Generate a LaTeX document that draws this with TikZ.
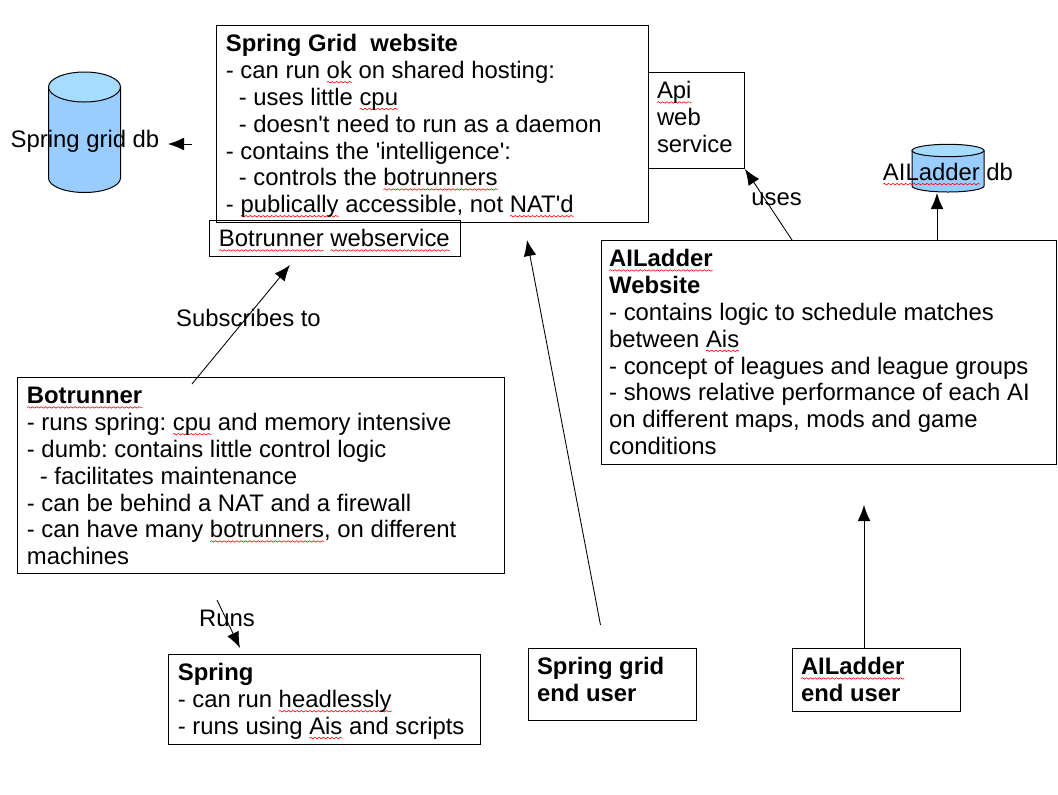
\documentclass[tikz,border=0pt]{standalone}
\usepackage{fontspec}
\usepackage{xcolor}
\usetikzlibrary{arrows.meta,decorations.pathmorphing}
\setmainfont{Liberation Sans}[Ligatures=TeXOff]
\frenchspacing
\definecolor{dbBody}{HTML}{99CCFF}
\definecolor{dbTop}{HTML}{A6DCFF}
\newsavebox{\spellbox}
\newcommand{\spell}[1]{\sbox{\spellbox}{#1}\leavevmode\rlap{\tikz[overlay]\draw[spellwave] (0pt,-2.7pt) -- (\the\wd\spellbox,-2.7pt);}\usebox{\spellbox}}
\newcommand{\ind}{\hspace*{9.7pt}}
\newcommand{\boxtext}[3]{\parbox[c][#2][t]{#1}{\raggedright\vspace*{5.6pt}\strut #3}}
\tikzset{
  box/.style={draw, line width=0.9pt, anchor=north west, inner xsep=7pt, inner ysep=0pt, font=\fontsize{17.9}{20.1}\selectfont},
  lbl/.style={inner sep=0pt, font=\fontsize{17.9}{20.1}\selectfont},
  conn/.style={line width=0.65pt, -{Latex[length=12pt,width=9.5pt]}},
  db/.style={draw, line width=0.75pt},
  spellwave/.style={red, line width=0.45pt, decorate, decoration={snake, amplitude=0.55pt, segment length=3.2pt}}
}
\begin{document}
\begin{tikzpicture}[x=0.75pt, y=-0.75pt]
  \useasboundingbox (0,0) rectangle (1058,794);

  % Databases
  \draw[db, fill=dbBody] (48.5,87) -- (48.5,178) arc[start angle=180, end angle=0, x radius=36, y radius=14.5] -- (120.5,87) -- cycle;
  \draw[db, fill=dbTop] (84.5,87) ellipse[x radius=36, y radius=15];
  \draw[db, fill=dbBody] (912,150.5) -- (912,186) arc[start angle=180, end angle=0, x radius=36, y radius=6] -- (984,150.5) -- cycle;
  \draw[db, fill=dbTop] (948,150.5) ellipse[x radius=36, y radius=6.2];
  \node[lbl] (griddb) at (85,141) {Spring grid db};
  \node[lbl] (ladderdb) at (948,172) {\spell{AILadder} db};

  % Boxes
  \node[box] (website) at (216,25) {\boxtext{310pt}{147.75pt}{\textbf{Spring Grid\ \ website}\\
    - can run \spell{ok} on shared hosting:\\
    \ind- uses little \spell{cpu}\\
    \ind- doesn't need to run as a daemon\\
    - contains the 'intelligence':\\
    \ind- controls the \spell{botrunners}\\
    - \spell{publically} accessible, not \spell{NAT'd}}};
  \node[box, inner xsep=6.3pt] (api) at (648,72) {\boxtext{59.4pt}{72pt}{\spell{Api}\\web\\service}};
  \node[box] (webservice) at (209,220) {\boxtext{174.25pt}{27pt}{\spell{Botrunner} \spell{webservice}}};
  \node[box] (botrunner) at (17,377) {\boxtext{351.25pt}{147pt}{\spell{\textbf{Botrunner}}\\
    - runs spring: \spell{cpu} and memory intensive\\
    - dumb: contains little control logic\\
    \ind- facilitates maintenance\\
    - can be behind a NAT and a firewall\\
    - can have many \spell{botrunners}, on different\\
    machines}};
  \node[box, inner xsep=5.7pt] (ladder) at (601,240) {\boxtext{329.85pt}{168pt}{\spell{\textbf{AILadder}}\\
    \textbf{Website}\\
    - contains logic to schedule matches\\
    between \spell{Ais}\\
    - concept of leagues and league groups\\
    - shows relative performance of each AI\\
    on different maps, mods and game\\
    conditions}};
  \node[box] (spring) at (168,654) {\boxtext{220pt}{67.5pt}{\textbf{Spring}\\
    - can run \spell{headlessly}\\
    - runs using \spell{Ais} and scripts}};
  \node[box, inner xsep=6.3pt] (griduser) at (528,648) {\boxtext{113.4pt}{54pt}{\textbf{Spring grid}\\\textbf{end user}}};
  \node[box, inner xsep=6.3pt] (ladderuser) at (792,648) {\boxtext{113.4pt}{47.25pt}{\spell{\textbf{AILadder}}\\\textbf{end user}}};

  % Connector ends
  \coordinate (griddbend) at (168,144);
  \coordinate (websiteout) at (192,144);
  \coordinate (botrunnerout) at (192,384);
  \coordinate (webserviceend) at (290,265);
  \coordinate (ladderout) at (792,240);
  \coordinate (apiend) at (745,169);
  \coordinate (ladderdbout) at (937,240);
  \coordinate (ladderdbend) at (937,193);
  \coordinate (runsout) at (217,600);
  \coordinate (springend) at (240,648);
  \coordinate (griduserout) at (600.5,625);
  \coordinate (gridwebend) at (527,240);
  \coordinate (ladderuserout) at (864,648);
  \coordinate (ladderend) at (864,505);

  % Connectors
  \draw[conn] (websiteout) -- (griddbend);
  \draw[conn] (botrunnerout) -- (webserviceend);
  \draw[conn] (ladderout) -- (apiend);
  \draw[conn] (ladderdbout) -- (ladderdbend);
  \draw[conn] (runsout) -- (springend);
  \draw[conn] (griduserout) -- (gridwebend);
  \draw[conn] (ladderuserout) -- (ladderend);

  % Labels
  \node[lbl] (subscribes) at (248.5,318) {Subscribes to};
  \node[lbl] (uses) at (776.5,199.5) {uses};
  \node[lbl] (runs) at (227,618) {Runs};
\end{tikzpicture}
\end{document}
